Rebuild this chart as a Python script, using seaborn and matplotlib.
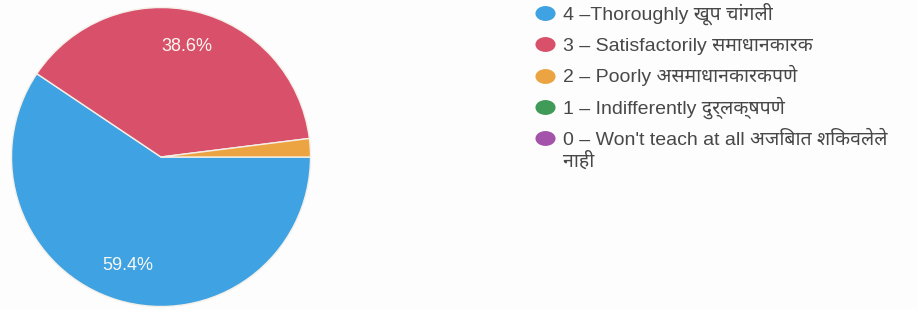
"""Pie chart of teaching ratings"""

import matplotlib.pyplot as plt
import seaborn as sns
from matplotlib.path import Path
from matplotlib.transforms import Affine2D

labels = [
    "4 –Thoroughly खूप चांगली",
    "3 – Satisfactorily समाधानकारक",
    "2 – Poorly असमाधानकारकपणे",
    "1 – Indifferently दुर्लक्षपणे",
    "0 – Won't teach at all अजिबात शिकवलेले\nनाही",
]
counts = [60, 39, 2, 0, 0]
colors = ["#3fa2e2", "#d9506a", "#eca443", "#3f9b57", "#a453aa"]


def pct_label(p):
    return f"{p:.1f}%" if p > 5 else ""


sns.set_theme(style="white")
plt.rcParams["font.family"] = ["Liberation Sans", "Noto Sans", "DejaVu Sans"]

W, H = 917, 309
fig = plt.figure(figsize=(W / 100, H / 100), dpi=100, facecolor="#fdfdfd")
ax = fig.add_axes([10 / W, 1 / H, 302 / W, 302 / H])
palette = sns.color_palette(colors)

shown = [c for c in counts if c > 0]
ax.pie(
    shown,
    colors=palette[: len(shown)],
    startangle=0,
    counterclock=False,
    autopct=pct_label,
    pctdistance=0.76,
    wedgeprops={"edgecolor": "#f4f0e8", "linewidth": 1},
    textprops={"color": "#f8f8f0", "fontsize": 13},
)
ax.set_xlim(-1.01, 1.01)
ax.set_ylim(-1.01, 1.01)
ax.set_aspect("equal")

# legend drawn in a pixel-space overlay so rows sit evenly
lax = fig.add_axes([0, 0, 1, 1])
lax.set_xlim(0, W)
lax.set_ylim(H, 0)
lax.axis("off")
blob = Path.unit_circle().transformed(Affine2D().scale(1.35, 1.0))
for i, (lab, c) in enumerate(zip(labels, palette)):
    y = 13 + 31.3 * i
    lax.scatter([545], [y], marker=blob, s=210, color=c, linewidths=0)
    for k, line in enumerate(lab.split("\n")):
        lax.text(563, y + 6.5 + 22 * k, line, fontsize=14,
                 color="#484848", va="baseline", ha="left")

fig.savefig("out.png", dpi=100, facecolor=fig.get_facecolor())
